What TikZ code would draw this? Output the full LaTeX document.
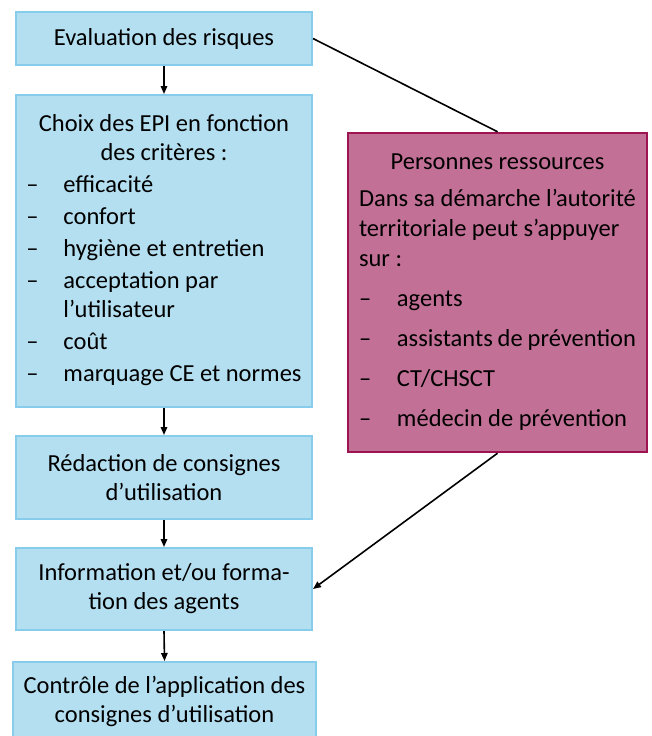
\documentclass[tikz,border=0pt]{standalone}
\usepackage{fontspec}
\setmainfont{Carlito}
\usetikzlibrary{arrows.meta}
\definecolor{bfill}{RGB}{180,223,241}
\definecolor{bdraw}{RGB}{136,204,235}
\definecolor{pfill}{RGB}{194,112,150}
\definecolor{pdraw}{RGB}{158,20,80}
\tikzset{
  bluebox/.style={draw=bdraw, fill=bfill, line width=2pt, inner sep=0pt, align=center,
    font=\fontsize{24.5pt}{29pt}\selectfont},
  pinkbox/.style={draw=pdraw, fill=pfill, line width=2.5pt, inner sep=0pt,
    font=\fontsize{24.5pt}{29pt}\selectfont},
  flow/.style={line width=1.6pt, -{Triangle[length=8pt,width=6.5pt]}},
  plain/.style={line width=1.6pt}
}
\begin{document}
\begin{tikzpicture}[x=1pt,y=-1pt]
\useasboundingbox (0,0) rectangle (651,736);
\clip (0,0) rectangle (651,736);
\node[bluebox, minimum width=296pt, minimum height=53pt] (eval) at (164,38.5) {Evaluation des risques};
\node[bluebox, minimum width=296pt, minimum height=312pt] (choix) at (164,251) {%
\begin{tabular}{@{}p{37pt}@{}l@{}}
\multicolumn{2}{c}{Choix des EPI en fonction}\\
\multicolumn{2}{c}{des critères :}\\[3pt]
-- & efficacité\\[3pt]
-- & confort\\[3pt]
-- & hygiène et entretien\\[3pt]
-- & acceptation par\\
   & l’utilisateur\\[3pt]
-- & coût\\[3pt]
-- & marquage CE et normes
\end{tabular}};
\node[bluebox, minimum width=296pt, minimum height=83pt] (redac) at (164,477.5) {Rédaction de consignes\\d’utilisation};
\node[bluebox, minimum width=296pt, minimum height=82pt] (info) at (164,589) {Information et/ou forma-\\tion des agents};
\node[bluebox, minimum width=303pt, minimum height=78pt] (ctrl) at (164.5,701) {Contrôle de l’application des\\consignes d’utilisation};
\node[pinkbox, minimum width=299pt, minimum height=319pt] (pers) at (497.5,292.5) {%
\begin{tabular}{@{}p{38pt}@{}p{239pt}@{}}
\multicolumn{2}{c}{Personnes ressources}\\[8pt]
\multicolumn{2}{@{}l@{}}{Dans sa démarche l’autorité}\\[1pt]
\multicolumn{2}{@{}l@{}}{territoriale peut s’appuyer}\\[1pt]
\multicolumn{2}{@{}l@{}}{sur :}\\[11pt]
-- & agents\\[11pt]
-- & assistants de prévention\\[11pt]
-- & CT/CHSCT\\[11pt]
-- & médecin de prévention
\end{tabular}};
\draw[flow] (eval.south) -- (choix.north);
\draw[flow] (choix.south) -- (redac.north);
\draw[flow] (redac.south) -- (info.north);
\draw[flow] (info.south) -- (ctrl.north);
\draw[plain] (eval.east) -- (pers.north);
\draw[flow] (pers.south) -- (info.east);
\end{tikzpicture}
\end{document}
